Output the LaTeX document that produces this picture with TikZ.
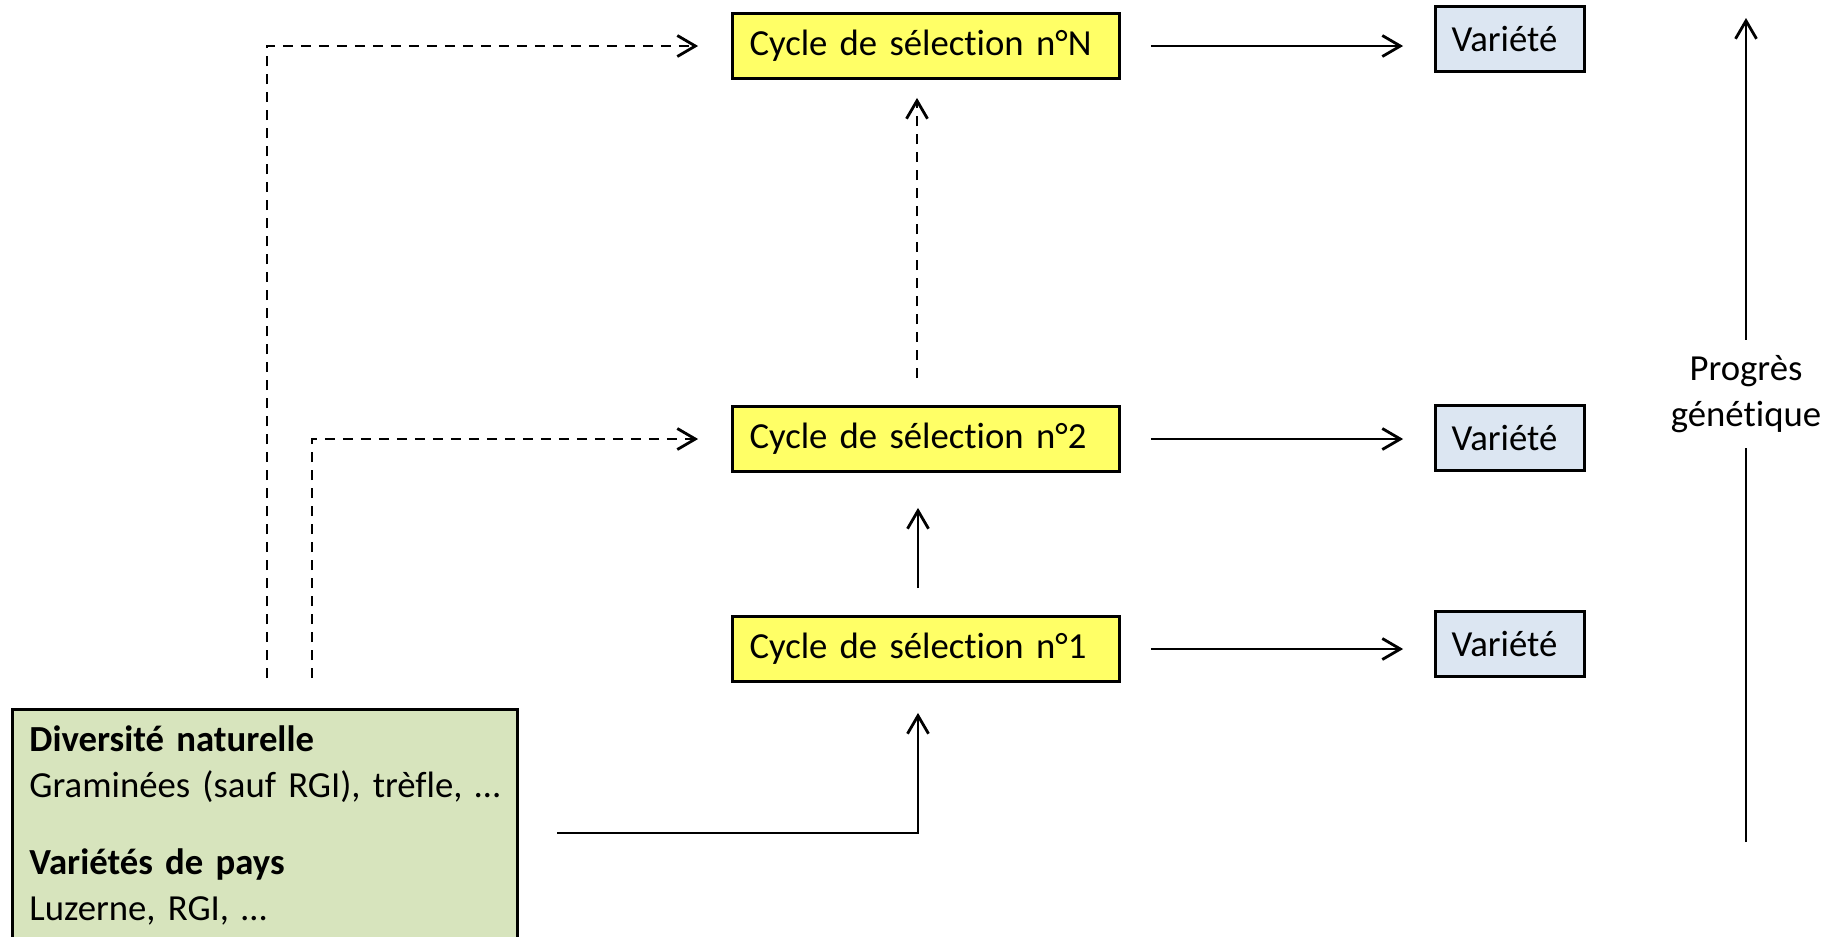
\documentclass[tikz,border=0pt]{standalone}
\usepackage{fontspec}
\setmainfont{Carlito}[Ligatures={NoCommon}, WordSpace=0.85]
\usepackage{xcolor}
\usetikzlibrary{arrows.meta}
\definecolor{jaune}{HTML}{FFFF66}
\definecolor{bleuclair}{HTML}{DCE6F2}
\definecolor{vertclair}{HTML}{D7E4BD}
\tikzset{
	cyclebox/.style={draw, fill=jaune, text width=35.3mm, inner xsep=1.7mm,
			minimum height=6.5mm, align=left},
	variete/.style={draw, fill=bleuclair, text width=11.7mm, inner xsep=1.6mm,
			minimum height=6.5mm, align=left},
	source/.style={draw, fill=vertclair, text width=47.1mm, inner xsep=1.7mm,
			inner ysep=1.6mm, align=left, anchor=north west},
	fleche/.style={-{Straight Barb[length=1.8mm, width=2.1mm]}},
	pointille/.style={dash pattern=on 1mm off 0.8mm}
}

\begin{document}
\begin{tikzpicture}[x=0.1mm, y=-0.1mm, line width=0.8pt,
		font=\fontsize{10.45}{13.1}\selectfont]
	\useasboundingbox (0,0) rectangle (1831,936);
	\clip (0,0) rectangle (1831,936);

	\node[cyclebox] (cN) at (926,46) {Cycle de sélection n°N};
	\node[cyclebox] (c2) at (926,439) {Cycle de sélection n°2};
	\node[cyclebox] (c1) at (926,649) {Cycle de sélection n°1};

	\node[variete] (vN) at (1510,39) {Variété};
	\node[variete] (v2) at (1510,438) {Variété};
	\node[variete] (v1) at (1510,644) {Variété};

	\node[source] (src) at (11,708) {\textbf{Diversité naturelle}\\
		Graminées (sauf RGI), trèfle,~…\\[3.1mm]
		\textbf{Variétés de pays}\\
		Luzerne, RGI, …\\[4mm]\mbox{}};

	\node[align=center, inner ysep=1.4mm] (prog) at (1746,394) {Progrès\\génétique};

	\coordinate (depart) at (557,833);
	\coordinate (d1) at (267,678);
	\coordinate (d2) at (312,678);
	\coordinate (pbas) at (1746,842);
	\coordinate (phaut) at (1746,18);

	% cycles vers varietes
	\draw[fleche, shorten <=3mm, shorten >=3.1mm] (cN.east) -- (cN.east -| vN.west);
	\draw[fleche, shorten <=3mm, shorten >=3.1mm] (c2.east) -- (c2.east -| v2.west);
	\draw[fleche, shorten <=3mm, shorten >=3.1mm] (c1.east) -- (c1.east -| v1.west);

	% enchainement des cycles
	\draw[fleche, shorten <=2.7mm, shorten >=3.5mm] ([xshift=-0.8mm]c1.north) -- ([xshift=-0.8mm]c2.south);
	\draw[fleche, pointille, shorten <=2.7mm, shorten >=1.8mm] ([xshift=-0.9mm]c2.north) -- ([xshift=-0.9mm]cN.south);
	\draw[fleche, shorten >=3mm] (depart) -| ([xshift=-0.8mm]c1.south);

	% ressources genetiques
	\draw[fleche, pointille, shorten >=3.3mm] (d1) |- (cN.west);
	\draw[fleche, pointille, shorten >=3.3mm] (d2) |- (c2.west);

	% progres genetique
	\draw (pbas) -- (prog.south);
	\draw[fleche] (prog.north) -- (phaut);
\end{tikzpicture}
\end{document}
